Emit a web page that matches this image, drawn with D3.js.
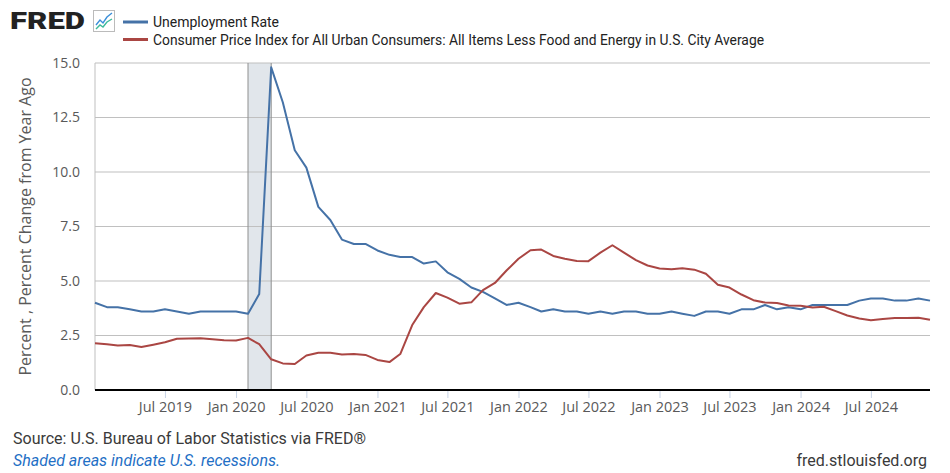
<!DOCTYPE html>
<html>
<head>
<meta charset="utf-8">
<script src="https://cdn.jsdelivr.net/npm/d3@7"></script>
<style>
  body { margin: 0; background: #fff; }
  svg { display: block; }
</style>
</head>
<body>
<script>
// monthly, Jan 2019 - Dec 2024
let unrate = [
  4.0, 3.8, 3.8, 3.7, 3.6, 3.6, 3.7, 3.6, 3.5, 3.6, 3.6, 3.6,
  3.6, 3.5, 4.4, 14.8, 13.2, 11.0, 10.2, 8.4, 7.8, 6.9, 6.7, 6.7,
  6.4, 6.2, 6.1, 6.1, 5.8, 5.9, 5.4, 5.1, 4.7, 4.5, 4.2, 3.9,
  4.0, 3.8, 3.6, 3.7, 3.6, 3.6, 3.5, 3.6, 3.5, 3.6, 3.6, 3.5,
  3.5, 3.6, 3.5, 3.4, 3.6, 3.6, 3.5, 3.7, 3.7, 3.9, 3.7, 3.8,
  3.7, 3.9, 3.9, 3.9, 3.9, 4.1, 4.2, 4.2, 4.1, 4.1, 4.2, 4.1
];
let coreCpi = [
  2.15, 2.10, 2.04, 2.06, 1.97, 2.08, 2.19, 2.35, 2.36, 2.37, 2.33, 2.28,
  2.27, 2.39, 2.10, 1.41, 1.22, 1.19, 1.58, 1.71, 1.71, 1.63, 1.65, 1.61,
  1.38, 1.28, 1.65, 2.98, 3.80, 4.45, 4.24, 3.96, 4.02, 4.58, 4.91, 5.48,
  6.02, 6.41, 6.44, 6.15, 6.02, 5.92, 5.91, 6.30, 6.64, 6.30, 5.96, 5.71,
  5.57, 5.54, 5.59, 5.52, 5.33, 4.83, 4.70, 4.38, 4.12, 4.01, 3.99, 3.88,
  3.86, 3.78, 3.82, 3.62, 3.42, 3.28, 3.20, 3.26, 3.30, 3.30, 3.31, 3.22
];
let yTicks = [0, 2.5, 5, 7.5, 10, 12.5, 15];
let recessions = [["2020-02-01", "2020-04-01"]];
let seriesNames = [
  "Unemployment Rate",
  "Consumer Price Index for All Urban Consumers: All Items Less Food and Energy in U.S. City Average"
];
let seriesColors = ["#4572a7", "#aa4643"];

let dates = unrate.map((d, i) => new Date(2019, i, 1));
let parse = d3.timeParse("%Y-%m-%d");

let W = 950, H = 473;
let svg = d3.select("body").append("svg").attr("width", W).attr("height", H);

let pLeft = 95, pRight = 930, pTop = 63, pBottom = 390;
let x = d3.scaleTime().domain([dates[0], dates[dates.length - 1]]).range([pLeft, pRight]);
let y = d3.scaleLinear().domain([0, 15]).range([pBottom, pTop]);

// logo
svg.append("text").attr("x", 10).attr("y", 29)
  .attr("font-family", "Roboto, Arial, sans-serif").attr("font-weight", 900)
  .attr("font-size", 24).attr("fill", "#222")
  .attr("textLength", 75).attr("lengthAdjust", "spacingAndGlyphs")
  .text("FRED");
let icon = svg.append("g").attr("transform", "translate(93,10)");
icon.append("rect").attr("x", 0.5).attr("y", 0.5).attr("width", 21).attr("height", 21)
  .attr("fill", "#fff").attr("stroke", "#bbb");
icon.append("path").attr("d", "M3,15 L7,10 L10,13 L14,7 L19,3")
  .attr("fill", "none").attr("stroke", "#3b8fd9").attr("stroke-width", 1.4);
icon.append("path").attr("d", "M3,19 L7,15 L10,17 L14,12 L19,9")
  .attr("fill", "none").attr("stroke", "#3dba9a").attr("stroke-width", 1.4);

// legend
let legend = svg.append("g");
let legendW = [126, 611];
seriesNames.forEach((name, i) => {
  let ly = 22 + i * 17.5;
  legend.append("line").attr("x1", 123).attr("x2", 148).attr("y1", ly).attr("y2", ly)
    .attr("stroke", seriesColors[i]).attr("stroke-width", 3);
  legend.append("text").attr("x", 153).attr("y", ly + 5)
    .attr("font-family", "Roboto, sans-serif").attr("font-size", 14).attr("fill", "#222")
    .attr("textLength", legendW[i]).attr("lengthAdjust", "spacingAndGlyphs")
    .text(name);
});

// recession shading
svg.append("g").selectAll("rect").data(recessions).enter().append("rect")
  .attr("x", d => x(parse(d[0])))
  .attr("y", pTop)
  .attr("width", d => x(parse(d[1])) - x(parse(d[0])))
  .attr("height", pBottom - pTop)
  .attr("fill", "#e1e6eb");

// gridlines
svg.append("g").selectAll("line").data(yTicks).enter().append("line")
  .attr("x1", pLeft).attr("x2", pRight)
  .attr("y1", d => y(d)).attr("y2", d => y(d))
  .attr("stroke", "#c0c0c0").attr("stroke-width", 1.2);

// recession borders
let rb = svg.append("g");
recessions.forEach(r => {
  [r[0], r[1]].forEach(s => {
    rb.append("line").attr("x1", x(parse(s))).attr("x2", x(parse(s)))
      .attr("y1", pTop).attr("y2", pBottom)
      .attr("stroke", "#8f8f8f").attr("stroke-width", 1);
  });
});

// left border
svg.append("line").attr("x1", pLeft).attr("x2", pLeft).attr("y1", pTop).attr("y2", pBottom)
  .attr("stroke", "#bfbfbf").attr("stroke-width", 1);

// y axis labels
let yAxis = d3.axisLeft(y).tickValues(yTicks).tickFormat(d3.format(".1f")).tickSize(0).tickPadding(15);
let yg = svg.append("g").attr("transform", `translate(${pLeft},0)`).call(yAxis);
yg.select(".domain").remove();
yg.selectAll("text").attr("font-family", "'Open Sans', sans-serif").attr("font-size", 14)
  .attr("fill", "#595959");

svg.append("text")
  .attr("transform", `translate(31,${(pTop + pBottom) / 2}) rotate(-90)`)
  .attr("text-anchor", "middle")
  .attr("font-family", "'Open Sans', sans-serif").attr("font-size", 16).attr("fill", "#595959")
  .text("Percent , Percent Change from Year Ago");

// x axis
let xTicks = d3.timeMonth.every(6).range(new Date(2019, 6, 1), new Date(2025, 0, 1));
let xAxis = d3.axisBottom(x).tickValues(xTicks)
  .tickFormat(d3.timeFormat("%b %Y")).tickSize(8).tickPadding(4);
let xg = svg.append("g").attr("transform", `translate(0,${pBottom})`).call(xAxis);
xg.select(".domain").remove();
xg.selectAll(".tick line").attr("stroke", "#c7d3e6");
xg.selectAll("text").attr("font-family", "'Open Sans', sans-serif").attr("font-size", 14.5)
  .attr("fill", "#595959");
svg.append("line").attr("x1", pLeft).attr("x2", pRight).attr("y1", pBottom).attr("y2", pBottom)
  .attr("stroke", "#000").attr("stroke-width", 2);

// series
let line = d3.line().x((d, i) => x(dates[i])).y(d => y(d));
[unrate, coreCpi].forEach((s, i) => {
  svg.append("path").datum(s).attr("d", line)
    .attr("fill", "none").attr("stroke", seriesColors[i]).attr("stroke-width", 2)
    .attr("stroke-linejoin", "round");
});

// footer
svg.append("text").attr("x", 13).attr("y", 444)
  .attr("font-family", "Roboto, sans-serif").attr("font-size", 16).attr("fill", "#3a3a3a")
  .text("Source: U.S. Bureau of Labor Statistics via FRED®");
svg.append("text").attr("x", 13).attr("y", 466)
  .attr("font-family", "Roboto, sans-serif").attr("font-size", 16).attr("font-style", "italic")
  .attr("fill", "#1f6fc5")
  .text("Shaded areas indicate U.S. recessions.");
svg.append("text").attr("x", 927).attr("y", 466).attr("text-anchor", "end")
  .attr("font-family", "Roboto, sans-serif").attr("font-size", 16).attr("fill", "#3a3a3a")
  .text("fred.stlouisfed.org");
</script>
</body>
</html>
